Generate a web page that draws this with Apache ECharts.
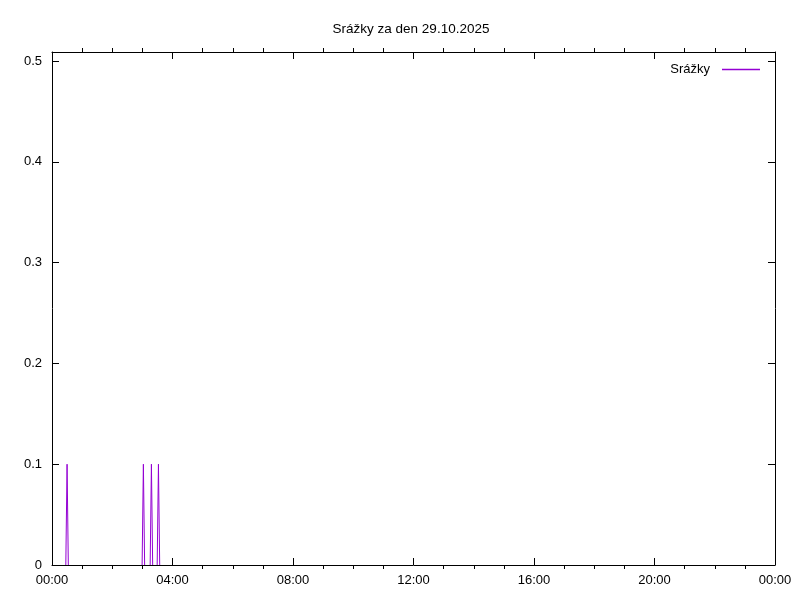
<!DOCTYPE html>
<html>
<head>
<meta charset="utf-8">
<script src="https://cdn.jsdelivr.net/npm/echarts@6/dist/echarts.min.js"></script>
<style>html,body{margin:0;padding:0;background:#fff}#c{width:800px;height:600px}</style>
</head>
<body>
<div id="c"></div>
<script>
// Data (time of day, precipitation in mm); null = gap between showers
const times = ["00:27:30","00:30:00","00:32:30","01:00:00","02:59:30","03:02:00","03:04:30","03:10:00","03:15:30","03:18:00","03:20:30","03:25:00","03:29:30","03:32:00","03:34:30"];
const rain  = [0,         0.1,       0,         null,      0,         0.1,       0,         null,      0,         0.1,       0,         null,      0,         0.1,       0];
const yTicks = [0, 0.1, 0.2, 0.3, 0.4, 0.5];
const xTickLabels = ["00:00","04:00","08:00","12:00","16:00","20:00","00:00"];
const seriesName = "Srážky";
const titleText = "Srážky za den 29.10.2025";

function toHours(s){const p=s.split(":").map(Number);return p[0]+p[1]/60+(p[2]||0)/3600;}
const data = times.map((t,i)=>[toHours(t), rain[i] === null ? '-' : rain[i]]);

const FONT = "Liberation Sans";
const black = "#000";
const purple = "#9400d3";

const chart = echarts.init(document.getElementById('c'), null, {renderer:'canvas'});
const axisLineStyle = {show:true, onZero:false, lineStyle:{color:black, width:1}};
chart.setOption({
  animation:false,
  backgroundColor:'#fff',
  title:{text:titleText, left:406, top:17, textAlign:'center',
    textStyle:{fontFamily:FONT, fontSize:13.5, fontWeight:'normal', color:black}},
  legend:{right:35, top:58, align:'right', itemWidth:38, itemHeight:1.5, itemGap:0,
    icon:'rect', textStyle:{fontFamily:FONT, fontSize:13, color:black, padding:[0,7,0,0]},
    data:[{name:seriesName, itemStyle:{color:purple}}]},
  grid:{left:52, right:25, top:52, bottom:35, containLabel:false},
  xAxis:[
    {type:'value', min:0, max:24, interval:4, position:'bottom', z:5,
     axisLine:axisLineStyle,
     axisTick:{show:true, inside:true, length:7, lineStyle:{color:black}},
     minorTick:{show:true, splitNumber:4, length:-4, lineStyle:{color:black}},
     splitLine:{show:false},
     axisLabel:{margin:9, fontFamily:FONT, fontSize:13, color:black,
       formatter:(v)=>xTickLabels[Math.round(v/4)] || ''}},
    {type:'value', min:0, max:24, interval:4, position:'top', z:5,
     axisLine:axisLineStyle,
     axisTick:{show:true, inside:true, length:7, lineStyle:{color:black}},
     minorTick:{show:true, splitNumber:4, length:-4, lineStyle:{color:black}},
     splitLine:{show:false}, axisLabel:{show:false}}
  ],
  yAxis:[
    {type:'value', min:0, max:0.509, interval:0.1, position:'left', z:5,
     axisLine:axisLineStyle,
     axisTick:{show:true, inside:true, length:7, lineStyle:{color:black}},
     splitLine:{show:false},
     axisLabel:{margin:10, fontFamily:FONT, fontSize:13, color:black, showMaxLabel:false,
       formatter:(v)=>{const t=yTicks.find(x=>Math.abs(x-v)<1e-6);return t===undefined?'':String(t);}}},
    {type:'value', min:0, max:0.509, interval:0.1, position:'right', z:5,
     axisLine:axisLineStyle,
     axisTick:{show:true, inside:true, length:7, lineStyle:{color:black}},
     splitLine:{show:false}, axisLabel:{show:false}}
  ],
  series:[{
    name:seriesName, type:'line', xAxisIndex:0, yAxisIndex:0,
    data:data, showSymbol:false, symbol:'none', connectNulls:false,
    lineStyle:{color:purple, width:1}, itemStyle:{color:purple}, z:1
  }]
});
</script>
</body>
</html>
